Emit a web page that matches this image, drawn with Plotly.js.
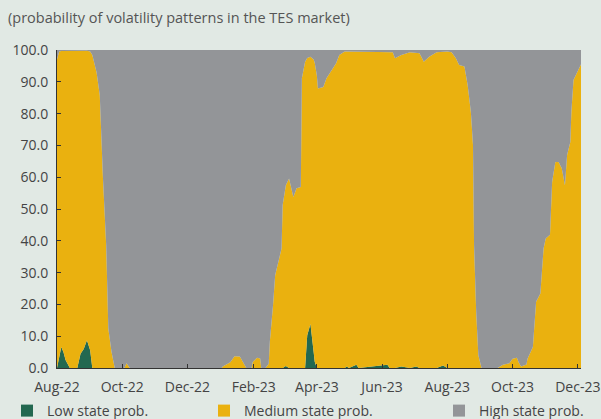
<!DOCTYPE html>
<html>
<head>
<meta charset="utf-8">
<script src="https://cdn.plot.ly/plotly-3.0.1.min.js"></script>
<style>
  html, body { margin: 0; padding: 0; background: #E1E9E4; }
  #chart { width: 601px; height: 419px; }
</style>
</head>
<body>
<div id="chart"></div>
<script>
// ---- data ----
const dates = [
  "2022-08-01","2022-08-03","2022-08-05","2022-08-07","2022-08-09","2022-08-13","2022-08-20","2022-08-23","2022-08-26","2022-08-29",
  "2022-09-01","2022-09-03","2022-09-07","2022-09-10","2022-09-13","2022-09-16","2022-09-18","2022-09-19","2022-09-21","2022-09-24",
  "2022-10-03","2022-10-05","2022-10-08","2023-01-02","2023-01-03","2023-01-10","2023-01-14","2023-01-19","2023-01-24","2023-01-25",
  "2023-01-30","2023-01-31","2023-02-04","2023-02-07","2023-02-08","2023-02-12","2023-02-15","2023-02-16","2023-02-19","2023-02-21",
  "2023-02-27","2023-02-28","2023-03-03","2023-03-06","2023-03-10","2023-03-13","2023-03-17","2023-03-18","2023-03-21","2023-03-23",
  "2023-03-26","2023-03-29","2023-03-30","2023-04-01","2023-04-02","2023-04-07","2023-04-10","2023-04-13","2023-04-16","2023-04-19",
  "2023-04-22","2023-04-27","2023-04-29","2023-05-01","2023-05-08","2023-05-10","2023-06-06","2023-06-08","2023-06-11","2023-06-13",
  "2023-06-19","2023-06-27","2023-07-03","2023-07-06","2023-07-10","2023-07-15","2023-07-22","2023-07-28","2023-08-01","2023-08-05",
  "2023-08-09","2023-08-12","2023-08-17","2023-08-20","2023-08-23","2023-08-25","2023-08-26","2023-08-28","2023-08-30","2023-09-02",
  "2023-09-17","2023-09-22","2023-09-28","2023-10-01","2023-10-05","2023-10-07","2023-10-09","2023-10-14","2023-10-15","2023-10-20",
  "2023-10-22","2023-10-23","2023-10-27","2023-10-30","2023-11-01","2023-11-05","2023-11-07","2023-11-10","2023-11-13","2023-11-16",
  "2023-11-19","2023-11-21","2023-11-24","2023-11-25","2023-11-27","2023-11-30","2023-12-04"
];

const lowProb = [
  0,4,6.6,5,2.5,0,0,4.5,6,8.7,
  5.6,0,0,0,0,0,0,0,0,0,
  0,0,0,0,0,0,0,0,0,0,
  0,0,0,0,0,0,0,0,0,0,
  0,0,0.6,0,0,0,0,0,0,10.3,
  13.8,5,2,0,0,0,0,0,0,0,
  0,0,0.5,0,1,0,1,0,0,0,
  0.5,0,0.5,0,0,0,0,0.8,0,0,
  0,0,0,0,0,0,0,0,0,0,
  0,0,0,0,0,0,0,0,0,0,
  0,0,0,0,0,0,0,0,0,0,
  0,0,0,0,0,0,0
];

const mediumProb = [
  97,95.5,93.1,94.7,97.2,99.7,99.8,95.3,93.8,91.1,
  93.9,98.4,93,85.8,59.6,38.6,12.4,9.3,5,0,
  0,1.5,0,0,0.5,1.8,3.7,3.6,0.5,0,
  0,1.9,3.2,3,0,0,1.3,8.2,19.7,29.2,
  37.6,51.2,56.9,59.6,53.8,56.5,56.9,91.1,96.3,87.2,
  84.1,92,94,92,87.9,88.4,91.1,92.7,94.2,95.8,
  98.4,99.5,99,99.5,98.5,99.5,98.4,99.3,99.3,97.4,
  97.9,99.3,98.7,99,96.3,97.9,99.3,98.7,99.5,99.3,
  97.4,95.3,94.8,89,80.6,70.1,38.6,17.6,4,0,
  0,1,1.5,2.9,3.2,1.6,0.5,1.1,2.9,6.6,
  14.5,20.8,23.4,37.6,40.7,41.9,58.5,64.8,64.8,62.8,
  57.5,67,71.1,80.6,90.6,92.7,95.5
];

const highProb = [
  3,0.5,0.3,0.3,0.3,0.3,0.2,0.2,0.2,0.2,
  0.5,1.6,7,14.2,40.4,61.4,87.6,90.7,95,100,
  100,98.5,100,100,99.5,98.2,96.3,96.4,99.5,100,
  100,98.1,96.8,97,100,100,98.7,91.8,80.3,70.8,
  62.4,48.8,42.5,40.4,46.2,43.5,43.1,8.9,3.7,2.5,
  2.1,3,4,8,12.1,11.6,8.9,7.3,5.8,4.2,
  1.6,0.5,0.5,0.5,0.5,0.5,0.6,0.7,0.7,2.6,
  1.6,0.7,0.8,1,3.7,2.1,0.7,0.5,0.5,0.7,
  2.6,4.7,5.2,11,19.4,29.9,61.4,82.4,96,100,
  100,99,98.5,97.1,96.8,98.4,99.5,98.9,97.1,93.4,
  85.5,79.2,76.6,62.4,59.3,58.1,41.5,35.2,35.2,37.2,
  42.5,33,28.9,19.4,9.4,7.3,4.5
];

const seriesNames = ["Low state prob.", "Medium state prob.", "High state prob."];
const seriesColors = ["#236850", "#EAB10F", "#939598"];
const titleText = "(probability of volatility patterns in the TES market)";

// ---- traces ----
const values = [lowProb, mediumProb, highProb];
const traces = [];
values.forEach((v, i) => {
  traces.push({
    type: "scatter", mode: "lines", x: dates, y: v,
    stackgroup: "one", name: seriesNames[i],
    line: { width: 0, color: seriesColors[i] },
    fillcolor: seriesColors[i],
    showlegend: false, hoverinfo: "skip"
  });
});
// legend-only entries (square swatches)
const legendIds = ["legend", "legend2", "legend3"];
seriesNames.forEach((n, i) => {
  traces.push({
    type: "scatter", mode: "markers", x: [null], y: [null], name: n,
    marker: { symbol: "square", size: 12, color: seriesColors[i] },
    legend: legendIds[i], showlegend: true
  });
});

const fontFam = "'Open Sans', 'Noto Sans', sans-serif";
const txtCol = "#444444";
function legendAt(xpx) {
  return {
    xref: "container", yref: "container",
    x: xpx / 601, y: 8 / 419, xanchor: "left", yanchor: "middle",
    orientation: "h", bgcolor: "rgba(0,0,0,0)",
    font: { family: fontFam, size: 14, color: txtCol }
  };
}

const layout = {
  width: 601, height: 419,
  paper_bgcolor: "#E1E9E4", plot_bgcolor: "#E1E9E4",
  margin: { l: 57, r: 20, t: 50, b: 51 },
  font: { family: fontFam, size: 14, color: txtCol },
  title: {
    text: titleText, xref: "container", yref: "container",
    x: 8 / 601, xanchor: "left", y: 1 - 18 / 419, yanchor: "middle",
    font: { family: fontFam, size: 14.5, color: "#555555" }
  },
  xaxis: {
    type: "date", range: ["2022-08-01", "2023-12-04"],
    tick0: "2022-08-01", dtick: "M2", tickformat: "%b-%y",
    ticks: "inside", ticklen: 4, tickcolor: "#333333",
    ticklabelstandoff: 6,
    showline: true, linecolor: "#333333", linewidth: 1,
    showgrid: false, zeroline: false,
    tickfont: { family: fontFam, size: 14, color: txtCol }
  },
  yaxis: {
    range: [0, 100], dtick: 10, tickformat: ".1f",
    ticks: "inside", ticklen: 4, tickcolor: "#333333",
    ticklabelstandoff: 5,
    showline: true, linecolor: "#333333", linewidth: 1,
    showgrid: false, zeroline: false,
    tickfont: { family: fontFam, size: 14, color: txtCol }
  },
  legend: legendAt(7),
  legend2: legendAt(204),
  legend3: legendAt(439),
  showlegend: true
};

Plotly.newPlot("chart", traces, layout, { displayModeBar: false, staticPlot: true });
</script>
</body>
</html>
